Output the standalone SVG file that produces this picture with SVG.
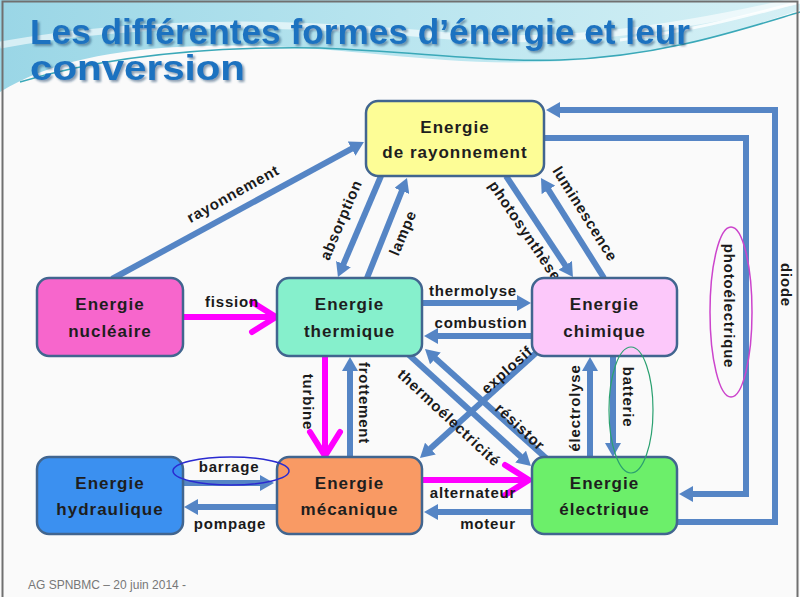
<svg xmlns="http://www.w3.org/2000/svg" width="800" height="597" viewBox="0 0 800 597">
<defs>
<linearGradient id="wave" x1="0" y1="0" x2="1" y2="0">
<stop offset="0" stop-color="#9ad6e6"/>
<stop offset="0.5" stop-color="#b9e5ef"/>
<stop offset="1" stop-color="#d6f0f5"/>
</linearGradient>
<filter id="shadow" x="-5%" y="-20%" width="110%" height="150%">
<feDropShadow dx="2" dy="2" stdDeviation="0.8" flood-color="#0d3a66" flood-opacity="0.5"/>
</filter>
<marker id="ah" markerUnits="userSpaceOnUse" viewBox="0 0 14 16" markerWidth="14" markerHeight="16" refX="7" refY="8" orient="auto">
<path d="M0,0 L14,8 L0,16 z" fill="#5585c5"/>
</marker>
<marker id="mh" markerUnits="userSpaceOnUse" viewBox="-30 -22 36 44" markerWidth="36" markerHeight="44" refX="0" refY="0" orient="auto">
<path d="M-24,-15 L0,0 L-24,15" fill="none" stroke="#ff00ff" stroke-width="6" stroke-linecap="round" stroke-linejoin="round"/>
</marker>
<style>
.node rect{stroke:#41658f;stroke-width:2.5}
.nt{font-family:"Liberation Sans",Arial,sans-serif;font-weight:bold;font-size:17px;fill:#1e1e1e;text-anchor:middle;letter-spacing:1px}
.lbl{font-family:"Liberation Sans",Arial,sans-serif;font-weight:bold;font-size:15px;fill:#1a1a1a;text-anchor:middle;letter-spacing:0.8px}
.c{fill:none;stroke:#5585c5;stroke-width:6;marker-end:url(#ah)}
.m{fill:none;stroke:#ff00ff;stroke-width:6;marker-end:url(#mh)}
.title{font-family:"Liberation Sans",Arial,sans-serif;font-weight:bold;font-size:35px;fill:#1f72c0;filter:url(#shadow)}
.ring{fill:none}
</style>
</defs>
<rect x="0" y="0" width="800" height="597" fill="#fafafa"/>
<path d="M0,0 H800 V10 C740,30 660,58 540,62 C420,66 330,42 200,46 C110,49 50,62 0,92 Z" fill="url(#wave)"/>
<path d="M0,45 C150,18 300,22 450,36 C560,46 680,28 800,0" fill="none" stroke="#ffffff" stroke-width="7" opacity="0.6"/>
<path d="M620,40 C700,30 760,12 800,2" fill="none" stroke="#ffffff" stroke-width="3" opacity="0.8"/>
<path d="M20,82 C100,58 200,46 320,48 C420,52 480,62 560,60 C660,57 740,30 800,12" fill="none" stroke="#3aa8b8" stroke-width="1.5"/>
<rect x="2.5" y="1.5" width="795" height="600" fill="none" stroke="#707070" stroke-width="2"/>
<g id="title">
<text class="title" x="30" y="44" textLength="660" lengthAdjust="spacingAndGlyphs">Les différentes formes d’énergie et leur</text>
<text class="title" x="30" y="80" textLength="215" lengthAdjust="spacingAndGlyphs">conversion</text>
</g>
<g id="connectors">
<line class="c" x1="112" y1="279" x2="357.8" y2="145.3"/>
<line class="c" x1="381" y1="176" x2="340.7" y2="270.6"/>
<line class="c" x1="367" y1="278" x2="404.4" y2="184.5"/>
<line class="c" x1="506" y1="176" x2="569.1" y2="271.2"/>
<line class="c" x1="604" y1="278" x2="544.7" y2="183.9"/>
<line class="c" x1="423" y1="303" x2="524" y2="303"/>
<line class="c" x1="532" y1="336" x2="431" y2="336"/>
<line class="c" x1="350" y1="457" x2="350" y2="364"/>
<line class="c" x1="408" y1="354" x2="525.8" y2="461.3"/>
<line class="c" x1="547" y1="459" x2="430.2" y2="353.7"/>
<line class="c" x1="537" y1="352" x2="425.2" y2="453.3"/>
<line class="c" x1="590" y1="457" x2="590" y2="364"/>
<line class="c" x1="613" y1="357" x2="613" y2="450"/>
<line class="c" x1="183" y1="483" x2="267" y2="483"/>
<line class="c" x1="277" y1="507" x2="191" y2="507"/>
<line class="c" x1="532" y1="512" x2="431" y2="512"/>
<polyline class="c" points="545,138 746,138 746,494 686,494"/>
<polyline class="c" points="677,522 775,522 775,110 553,110"/>
<line class="m" x1="173" y1="317" x2="276" y2="317"/>
<line class="m" x1="325" y1="356" x2="325" y2="456"/>
<line class="m" x1="423" y1="480" x2="529" y2="480"/>
</g>
<g id="labels">
<text class="lbl" transform="translate(233,194) rotate(-29)" y="5">rayonnement</text>
<text class="lbl" transform="translate(341,220) rotate(-67)" y="5">absorption</text>
<text class="lbl" transform="translate(403,233) rotate(-67)" y="5">lampe</text>
<text class="lbl" transform="translate(525,231) rotate(56)" y="5">photosynthèse</text>
<text class="lbl" transform="translate(585,214) rotate(58)" y="5">luminescence</text>
<text class="lbl" transform="translate(449,418) rotate(43)" y="5">thermoélectricité</text>
<text class="lbl" transform="translate(520,427) rotate(43)" y="5">résistor</text>
<text class="lbl" transform="translate(507,370) rotate(-42)" y="5">explosif</text>
<text class="lbl" transform="translate(308,402) rotate(90)" y="5">turbine</text>
<text class="lbl" transform="translate(364,403) rotate(90)" y="5">frottement</text>
<text class="lbl" transform="translate(575,408) rotate(-90)" y="5">électrolyse</text>
<text class="lbl" transform="translate(628,397) rotate(90)" y="5">batterie</text>
<text class="lbl" transform="translate(729,306) rotate(90)" y="5">photoélectrique</text>
<text class="lbl" transform="translate(786,285) rotate(90)" y="5">diode</text>
<text class="lbl" x="232" y="307">fission</text>
<text class="lbl" x="473" y="296">thermolyse</text>
<text class="lbl" x="481" y="328">combustion</text>
<text class="lbl" x="229" y="472">barrage</text>
<text class="lbl" x="230" y="529">pompage</text>
<text class="lbl" x="473" y="498">alternateur</text>
<text class="lbl" x="488" y="529">moteur</text>
</g>
<g id="n-rayonnement" class="node">
<rect x="366" y="101" width="178" height="75" rx="12" fill="#fdfd96"/>
<text class="nt" x="455" y="133">Energie</text>
<text class="nt" x="455" y="158">de rayonnement</text>
</g>
<g id="n-nucleaire" class="node">
<rect x="37" y="278" width="146" height="78" rx="12" fill="#f766cc"/>
<text class="nt" x="110" y="310">Energie</text>
<text class="nt" x="110" y="337">nucléaire</text>
</g>
<g id="n-thermique" class="node">
<rect x="277" y="278" width="145" height="78" rx="12" fill="#86f0cc"/>
<text class="nt" x="349.5" y="310">Energie</text>
<text class="nt" x="349.5" y="337">thermique</text>
</g>
<g id="n-chimique" class="node">
<rect x="532" y="278" width="145" height="78" rx="12" fill="#fcc8fa"/>
<text class="nt" x="604.5" y="310">Energie</text>
<text class="nt" x="604.5" y="337">chimique</text>
</g>
<g id="n-hydraulique" class="node">
<rect x="37" y="457" width="146" height="77" rx="12" fill="#3b90f0"/>
<text class="nt" x="110" y="489">Energie</text>
<text class="nt" x="110" y="515">hydraulique</text>
</g>
<g id="n-mecanique" class="node">
<rect x="277" y="457" width="145" height="77" rx="12" fill="#f99a64"/>
<text class="nt" x="349.5" y="489">Energie</text>
<text class="nt" x="349.5" y="515">mécanique</text>
</g>
<g id="n-electrique" class="node">
<rect x="532" y="457" width="145" height="77" rx="12" fill="#6cef6a"/>
<text class="nt" x="604.5" y="489">Energie</text>
<text class="nt" x="604.5" y="515">électrique</text>
</g>
<g id="highlights">
<ellipse class="ring" cx="231" cy="471" rx="58" ry="14" stroke="#2a2ad0" stroke-width="1.5"/>
<ellipse class="ring" cx="631" cy="410" rx="22" ry="63" stroke="#2aa070" stroke-width="1.2"/>
<ellipse class="ring" cx="731" cy="312" rx="21" ry="85" stroke="#cc44cc" stroke-width="1.5"/>
</g>
<text x="28" y="589" font-family="Liberation Sans, Arial, sans-serif" font-size="12" fill="#777777">AG SPNBMC – 20 juin 2014 -</text>
</svg>
